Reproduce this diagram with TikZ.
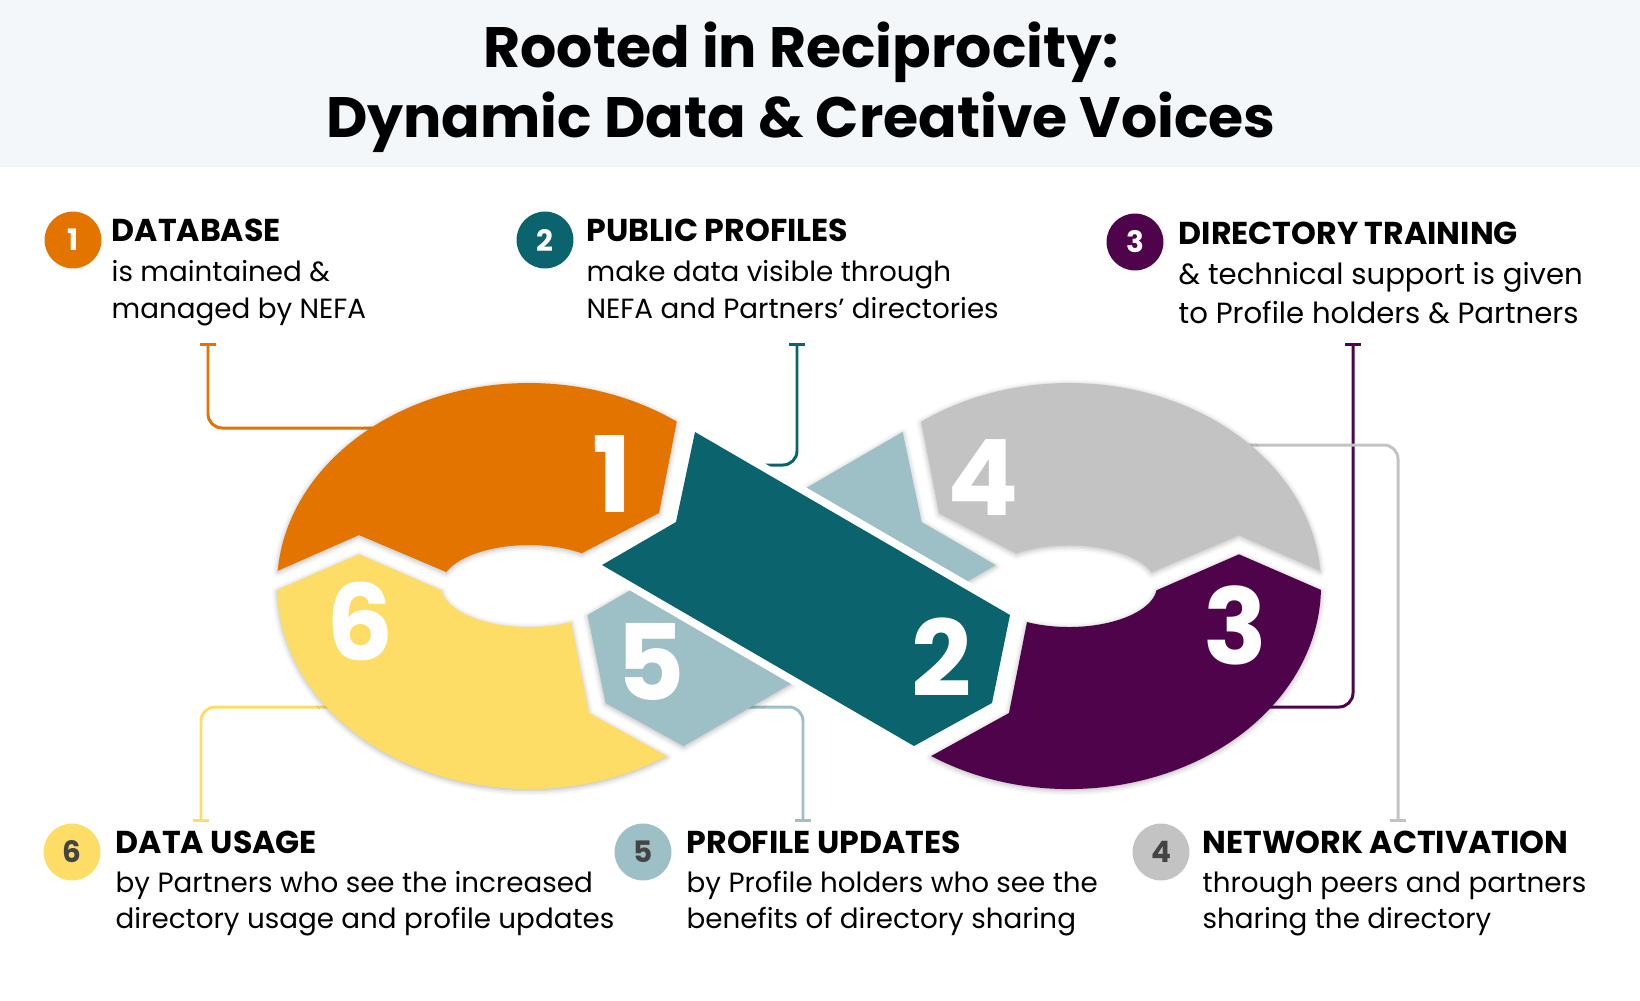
\documentclass[tikz,border=0pt]{standalone}
\usepackage{fontspec}
\setmainfont{Poppins}
\usepackage{tikz}
\usetikzlibrary{arrows.meta, shadows.blur}

\definecolor{cheader}{HTML}{F3F7FA}
\definecolor{corange}{HTML}{E37400}
\definecolor{cteal}{HTML}{0B636D}
\definecolor{cpurple}{HTML}{4F034B}
\definecolor{cgray}{HTML}{C3C3C3}
\definecolor{clteal}{HTML}{9DBFC6}
\definecolor{cyellow}{HTML}{FDDD66}
\definecolor{cnum}{HTML}{444444}

\begin{document}
\begin{tikzpicture}[x=0.1mm, y=-0.1mm,
  link/.style={line width=0.85pt, rounded corners=4pt, {Bar[width=4.5pt]}-},
  seg/.style={blur shadow={shadow xshift=0pt, shadow yshift=-0.4pt, shadow blur radius=1.5pt, shadow opacity=30}},
  bignum/.style={text=white, inner sep=0pt, font=\fontsize{30}{30}\selectfont\bfseries},
  badge/.style={circle, minimum size=16.2pt, inner sep=0pt, font=\fontsize{8.4}{8.4}\selectfont\bfseries},
  title/.style={anchor=base, inner sep=0pt, font=\fontsize{16.2}{16}\selectfont\bfseries},
  head/.style={anchor=base west, inner sep=0pt, font=\fontsize{9}{9}\selectfont\bfseries},
  body/.style={anchor=base west, inner sep=0pt, font=\fontsize{7.9}{8}\selectfont},
  bodyl/.style={body, font=\fontsize{8.3}{8}\selectfont}]
\useasboundingbox (0,0) rectangle (1640,1000);
% Cabecalho
\fill[cheader] (0,0) rectangle (1640,167);
\node[title] (tit1) at (801,67) {Rooted in Reciprocity:};
\node[title] (tit2) at (801,137) {Dynamic Data \& Creative Voices};
% Conectores
\coordinate (k1) at (208,343); \coordinate (e1) at (385,428);
\coordinate (k2) at (797,343); \coordinate (e2) at (740,465);
\coordinate (k3) at (1353,343); \coordinate (e3) at (1260,707);
\coordinate (k4) at (1398,822); \coordinate (e4) at (1240,445);
\coordinate (k5) at (803,822); \coordinate (e5) at (740,707);
\coordinate (k6) at (201,822); \coordinate (e6) at (340,707);
\draw[link, corange] (k1) |- (e1);
\draw[link, cteal] (k2) |- (e2);
\draw[link, cpurple] (k3) |- (e3);
\draw[link, cgray] (k4) |- (e4);
\draw[link, clteal] (k5) |- (e5);
\draw[link, cyellow] (k6) |- (e6);
% Faixa clara (5)
\fill[clteal, seg] (902.6,432) -- (587.6,615) -- (605.6,703) -- (683.6,746)
  -- (995.6,565) -- (921.6,522) -- cycle;
% Anel esquerdo
\fill[corange, seg] (277.7,570.8) arc[start angle=184.3, end angle=305.9, x radius=252, y radius=203]
  -- (659,513) -- (581.7,553.2) arc[start angle=306.8, end angle=200, x radius=88, y radius=41]
  -- (359,535) -- cycle;
\fill[cyellow, seg] (277,589.9) -- (359,554.3) -- (441.5,590.3)
  arc[start angle=174, end angle=61.5, x radius=88, y radius=41]
  -- (589,713) -- (666.8,756) arc[start angle=56.85, end angle=178.9, x radius=252, y radius=203] -- cycle;
% Anel direito
\fill[cgray, seg] (1320.3,570.8) arc[start angle=-4.3, end angle=-125.9, x radius=252, y radius=203]
  -- (939,513) -- (1016.3,553.2) arc[start angle=-126.8, end angle=-20, x radius=88, y radius=41]
  -- (1239,535) -- cycle;
\fill[cpurple, seg] (1321,589.9) -- (1239,554.3) -- (1156.5,590.3)
  arc[start angle=6, end angle=118.5, x radius=88, y radius=41]
  -- (1009,713) -- (931.2,756) arc[start angle=123.15, end angle=1.1, x radius=252, y radius=203] -- cycle;
% Faixa escura (2)
\fill[cteal, seg, preaction={draw=white, line width=4.5pt}] (695,432) -- (1010,615) -- (992,703)
  -- (914,746) -- (602,565) -- (676,522) -- cycle;
% Numeros
\node[bignum] (n1) at (612,474) {1};
\node[bignum] (n2) at (942,657) {2};
\node[bignum] (n3) at (1235,625) {3};
\node[bignum] (n4) at (983,478) {4};
\node[bignum] (n5) at (651,662) {5};
\node[bignum] (n6) at (360,621) {6};
% Legenda
\node[badge, fill=corange, text=white] (c1) at (73,240) {1};
\node[head] (h1) at (111,241) {DATABASE};
\node[body] (b1a) at (111,281) {is maintained \&};
\node[body] (b1b) at (111,318) {managed by NEFA};
\node[badge, fill=cteal, text=white] (c2) at (545,240) {2};
\node[head] (h2) at (586,241) {PUBLIC PROFILES};
\node[body] (b2a) at (586,281) {make data visible through};
\node[body] (b2b) at (586,318) {NEFA and Partners’ directories};
\node[badge, fill=cpurple, text=white] (c3) at (1135,242) {3};
\node[head] (h3) at (1178,244) {DIRECTORY TRAINING};
\node[bodyl] (b3a) at (1178,284) {\& technical support is given};
\node[bodyl] (b3b) at (1178,323) {to Profile holders \& Partners};
\node[badge, fill=cyellow, text=cnum] (c6) at (72,852) {6};
\node[head] (h6) at (115,853) {DATA USAGE};
\node[body] (b6a) at (115,892) {by Partners who see the increased};
\node[body] (b6b) at (115,928) {directory usage and profile updates};
\node[badge, fill=clteal, text=cnum] (c5) at (643,852) {5};
\node[head] (h5) at (686,853) {PROFILE UPDATES};
\node[body] (b5a) at (686,892) {by Profile holders who see the};
\node[body] (b5b) at (686,928) {benefits of directory sharing};
\node[badge, fill=cgray, text=cnum] (c4) at (1161,852) {4};
\node[head] (h4) at (1202,853) {NETWORK ACTIVATION};
\node[body] (b4a) at (1202,892) {through peers and partners};
\node[body] (b4b) at (1202,928) {sharing the directory};
\end{tikzpicture}
\end{document}
